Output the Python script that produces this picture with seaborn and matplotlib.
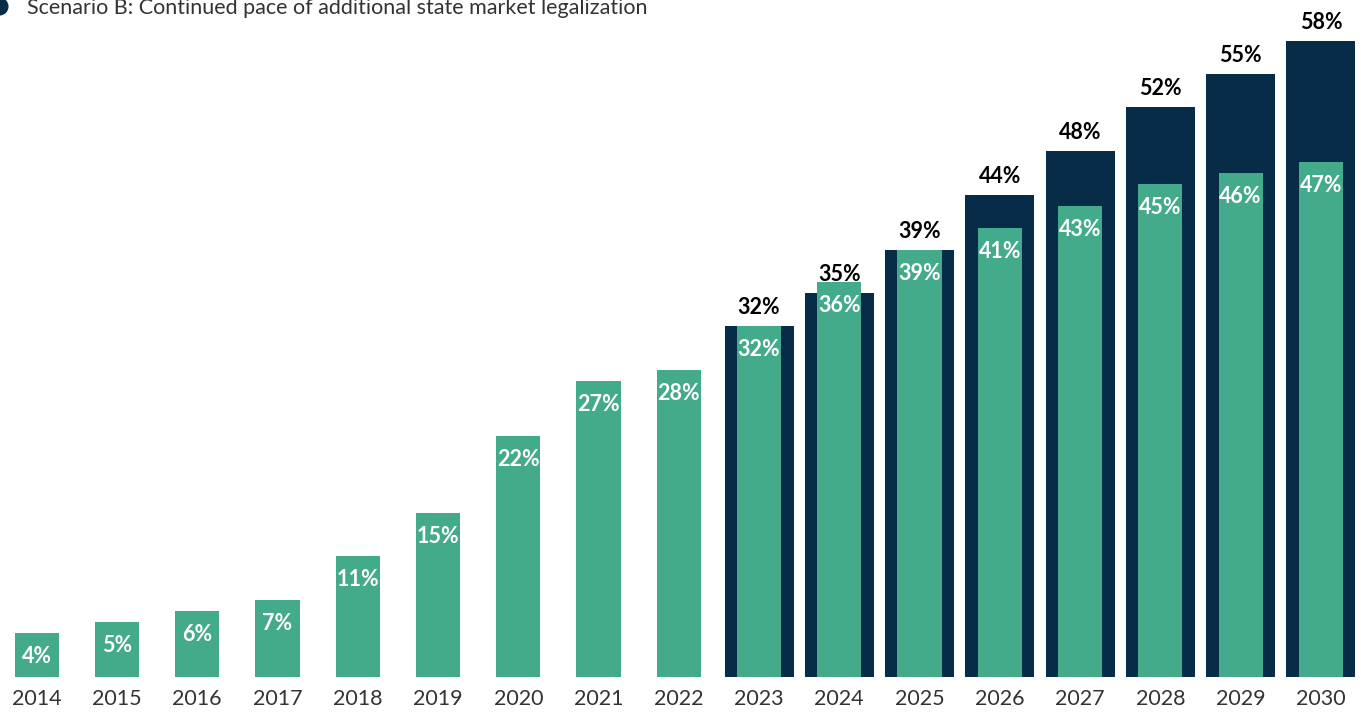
import matplotlib
matplotlib.use("Agg")
import matplotlib.pyplot as plt
from matplotlib.lines import Line2D
import seaborn as sns
import pandas as pd
import numpy as np

# data
years = [str(y) for y in range(2014, 2031)]
scenario_a = [4, 5, 6, 7, 11, 15, 22, 27, 28, 32, 36, 39, 41, 43, 45, 46, 47]
scenario_b = [np.nan] * 9 + [32, 35, 39, 44, 48, 52, 55, 58]
legend_label = "Scenario B: Continued pace of additional state market legalization"

GREEN = "#43aa8b"
NAVY = "#072c48"

sns.set_theme(style="white")
plt.rcParams["font.family"] = ["Lato", "DejaVu Sans"]

df = pd.DataFrame({"year": years, "a": scenario_a, "b": scenario_b})

fig = plt.figure(figsize=(13.61, 7.12), dpi=100)
ax = fig.add_axes([3 / 1361, 35 / 712, 1358 / 1361, 677 / 712])

sns.barplot(data=df, x="year", y="b", order=years, color=NAVY, width=0.86,
            saturation=1, linewidth=0, ax=ax)
sns.barplot(data=df, x="year", y="a", order=years, color=GREEN, width=0.55,
            saturation=1, linewidth=0, ax=ax)

for i, (a, b) in enumerate(zip(scenario_a, scenario_b)):
    ax.annotate(f"{a}%", (i, a), xytext=(0, -30), textcoords="offset pixels",
                ha="center", va="baseline", color="white", fontsize=15.5,
                fontweight="bold")
    if not np.isnan(b):
        ax.annotate(f"{int(b)}%", (i, b), xytext=(0, 12), textcoords="offset pixels",
                    ha="center", va="baseline", color="black", fontsize=15.5,
                    fontweight="bold")

ax.set_xlim(-0.42, 16.5)
ax.set_ylim(0, 61.77)
ax.set_yticks([0, 10, 20, 30, 40, 50])
ax.set_yticklabels([])
ax.set_xlabel("")
ax.set_ylabel("")
ax.tick_params(axis="both", length=1.5, width=1, color="#888888", pad=7)
ax.tick_params(axis="x", labelsize=15.5, labelcolor="#333333")
sns.despine(ax=ax, left=True, bottom=True)

handle = Line2D([], [], marker="o", color=NAVY, linestyle="", markersize=12)
fig.legend(handles=[handle], labels=[legend_label], loc="center left",
           bbox_to_anchor=(-0.031, 1 - 8 / 712), frameon=False, fontsize=15.5,
           handletextpad=0.3, labelcolor="#333333")

fig.savefig("out.png", dpi=100)
